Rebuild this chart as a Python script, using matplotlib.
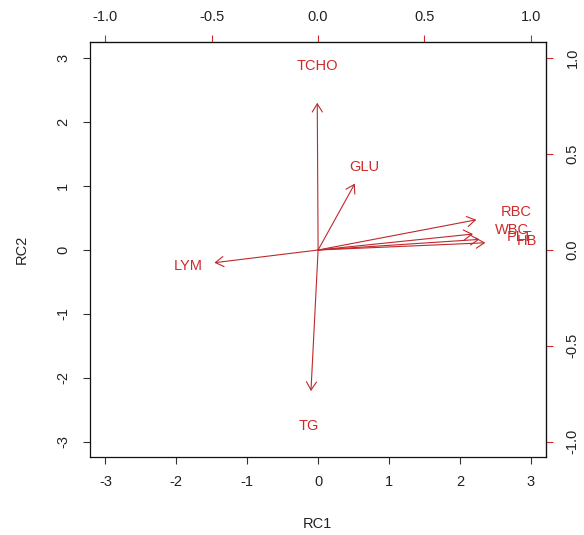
import matplotlib
matplotlib.use("Agg")
import matplotlib.pyplot as plt
from matplotlib.patches import FancyArrowPatch

plt.rcParams['font.family'] = ['Liberation Sans', 'DejaVu Sans']
plt.rcParams['axes.unicode_minus'] = False

# Variable loadings (top/right axis scale)
variables = ["TCHO", "GLU", "RBC", "WBC", "PLT", "HB", "LYM", "TG"]
rc1_load = [-0.005, 0.216, 0.930, 0.910, 0.948, 0.983, -0.610, -0.042]
rc2_load = [0.960, 0.433, 0.197, 0.104, 0.069, 0.047, -0.083, -0.920]

bottom_ticks = [-3, -2, -1, 0, 1, 2, 3]
left_ticks = [-3, -2, -1, 0, 1, 2, 3]
top_ticks = [-1.0, -0.5, 0.0, 0.5, 1.0]
right_ticks = [-1.0, -0.5, 0.0, 0.5, 1.0]
ratio = 3.0

red = '#cf2a2a'
txt = '#222222'
fs = 10.5

fig = plt.figure(figsize=(5.84, 5.35), dpi=100)
ax = fig.add_axes([89.5/584, (535-456.7)/535, (546-89.5)/584, (456.7-42)/535])
ax.set_xlim(-3.225, 3.215)
ax.set_ylim(-3.235, 3.255)

for sp in ax.spines.values():
    sp.set_color('#111111')
    sp.set_linewidth(0.9)

ax.set_xticks(bottom_ticks)
ax.set_xticklabels([str(t) for t in bottom_ticks])
ax.set_yticks(left_ticks)
ax.set_yticklabels([str(t) for t in left_ticks], rotation=90, va='center')
ax.tick_params(axis='x', length=5, width=0.8, color='#333333', labelsize=fs,
               labelcolor=txt, pad=8)
ax.tick_params(axis='y', length=5, width=0.8, color='#333333', labelsize=fs,
               labelcolor=txt, pad=9)
ax.set_xlabel("RC1", fontsize=fs, color=txt, labelpad=20)
ax.set_ylabel("RC2", fontsize=fs, color=txt, labelpad=20)

secx = ax.secondary_xaxis('top', functions=(lambda x: x/ratio, lambda x: x*ratio))
secx.set_xticks(top_ticks)
secx.set_xticklabels([f"{t:.1f}" for t in top_ticks])
secx.tick_params(length=5, width=0.8, color=red, labelsize=fs, labelcolor=txt, pad=8)

secy = ax.secondary_yaxis('right', functions=(lambda y: y/ratio, lambda y: y*ratio))
secy.set_yticks(right_ticks)
secy.set_yticklabels([f"{t:.1f}" for t in right_ticks], rotation=90, va='center')
secy.tick_params(length=5, width=0.8, color=red, labelsize=fs, labelcolor=txt, pad=9)

for name, a, b in zip(variables, rc1_load, rc2_load):
    x, y = a*ratio, b*ratio
    arr = FancyArrowPatch((0, 0), (0.8*x, 0.8*y),
                          arrowstyle='->,head_length=0.42,head_width=0.26',
                          mutation_scale=14, color='#c0282c', lw=0.8,
                          shrinkA=0, shrinkB=0)
    ax.add_patch(arr)
    ax.text(x, y, name, color=red, fontsize=fs, ha='center', va='center')

fig.savefig("out.png", dpi=100)
